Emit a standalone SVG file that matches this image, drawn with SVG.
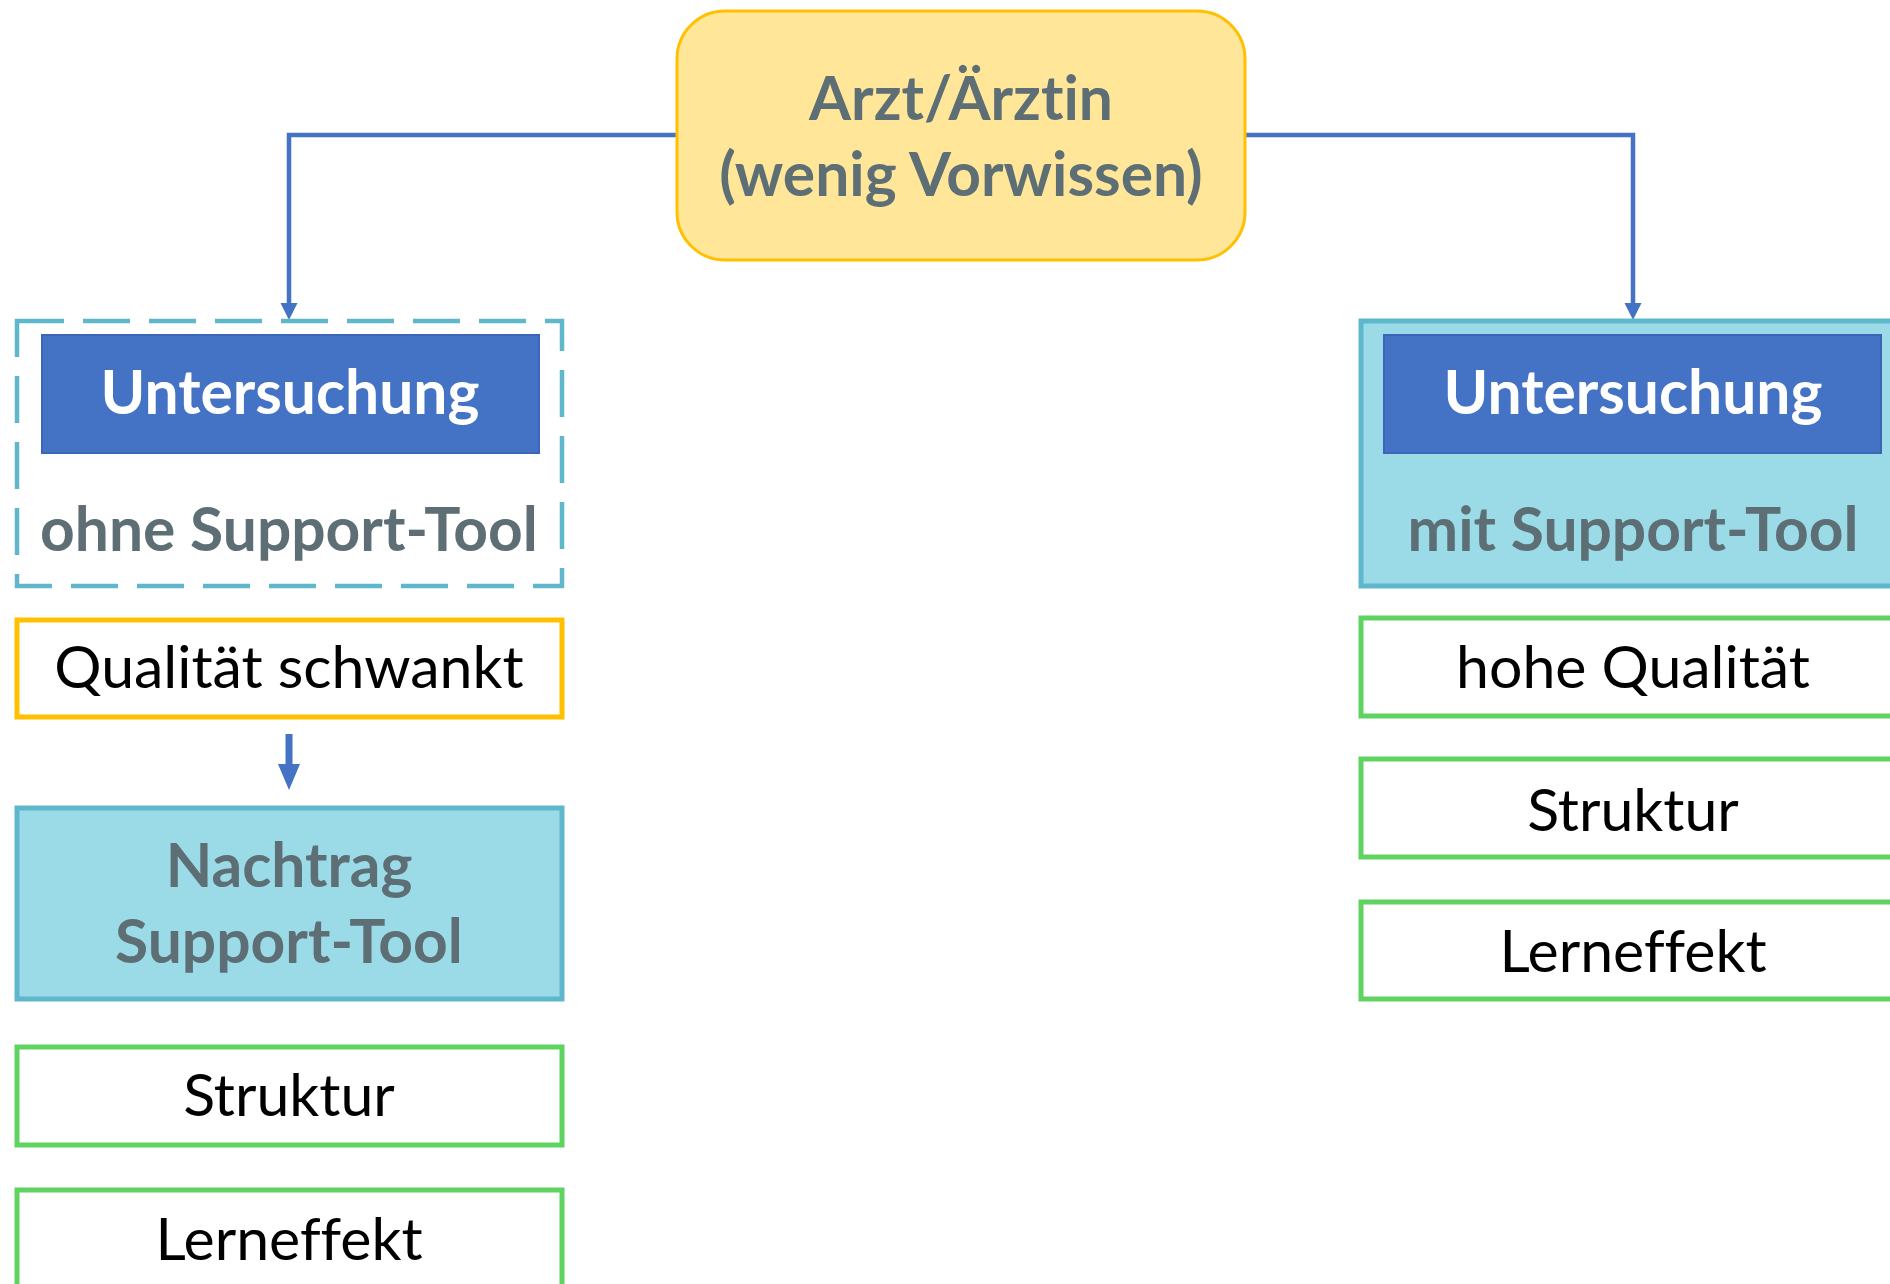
<svg xmlns="http://www.w3.org/2000/svg" width="1890" height="1284" viewBox="0 0 1890 1284">
<style>
.t{font-family:Lato,"Open Sans","Liberation Sans",sans-serif;text-anchor:middle;font-variant-ligatures:none;font-size:59px}
.b{font-weight:bold;font-size:60.5px}
.gray{fill:#5D6F75}
.white{fill:#FFFFFF}
.black{fill:#000000}
.blue{fill:#4472C4;stroke:#3B66B8;stroke-width:2}
.cyan{fill:#9BDBE8;stroke:#5FB7CC;stroke-width:5}
.green{fill:#FFFFFF;stroke:#5FD35F;stroke-width:5}
.gold{fill:#FFFFFF;stroke:#FFC000;stroke-width:5}
.conn{fill:none;stroke:#4472C4;stroke-width:4.5}
.head{fill:#4472C4}
</style>
<rect width="1890" height="1284" fill="#FFFFFF"/>
<g id="connectors">
<path class="conn" d="M676,135 H289 V306"/>
<path class="head" d="M280.5,303 L297.5,303 L289,320 Z"/>
<path class="conn" d="M1245,135 H1633 V306"/>
<path class="head" d="M1624.5,303 L1641.5,303 L1633,320 Z"/>
<path class="head" d="M285.5,734 H292.5 V764 H300 L289,790 L278,764 H285.5 Z"/>
</g>
<g id="node-arzt">
<rect x="677" y="11" width="568" height="249" rx="48" ry="48" fill="#FFE699" stroke="#FFC000" stroke-width="3"/>
<text class="t b gray" x="961" y="120">Arzt/Ärztin</text>
<text class="t b gray" x="961" y="196">(wenig Vorwissen)</text>
</g>
<g id="node-ohne">
<rect x="17" y="321" width="545" height="265" fill="#FFFFFF" stroke="#5FB7CC" stroke-width="4.5" stroke-dasharray="47 19"/>
<rect class="blue" x="42" y="335" width="497" height="118"/>
<text class="t b white" x="290" y="414">Untersuchung</text>
<text class="t b gray" x="289" y="551">ohne Support-Tool</text>
</g>
<g id="node-qualitaet-schwankt">
<rect class="gold" x="17" y="620" width="545" height="97"/>
<text class="t black" x="289" y="688">Qualität schwankt</text>
</g>
<g id="node-nachtrag">
<rect class="cyan" x="17" y="808" width="545" height="191"/>
<text class="t b gray" x="289" y="887">Nachtrag</text>
<text class="t b gray" x="289" y="963">Support-Tool</text>
</g>
<g id="node-struktur-left">
<rect class="green" x="17" y="1047" width="545" height="98"/>
<text class="t black" x="289" y="1116">Struktur</text>
</g>
<g id="node-lerneffekt-left">
<rect class="green" x="17" y="1190" width="545" height="120"/>
<text class="t black" x="289" y="1260">Lerneffekt</text>
</g>
<g id="node-mit">
<rect class="cyan" x="1361" y="321" width="545" height="265"/>
<rect class="blue" x="1384" y="335" width="497" height="118"/>
<text class="t b white" x="1633" y="414">Untersuchung</text>
<text class="t b gray" x="1633" y="551">mit Support-Tool</text>
</g>
<g id="node-hohe-qualitaet">
<rect class="green" x="1361" y="618" width="545" height="98"/>
<text class="t black" x="1633" y="688">hohe Qualität</text>
</g>
<g id="node-struktur-right">
<rect class="green" x="1361" y="759" width="545" height="98"/>
<text class="t black" x="1633" y="831">Struktur</text>
</g>
<g id="node-lerneffekt-right">
<rect class="green" x="1361" y="902" width="545" height="97"/>
<text class="t black" x="1633" y="972">Lerneffekt</text>
</g>
</svg>
